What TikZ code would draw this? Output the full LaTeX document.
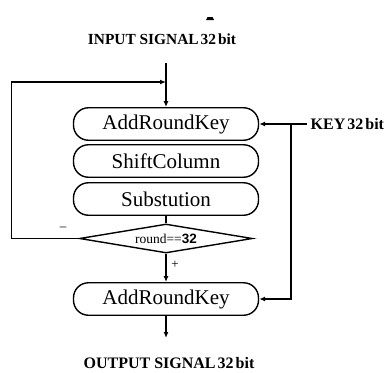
\documentclass[tikz,border=0pt]{standalone}
\usepackage{fontspec}
\setmainfont{Liberation Serif}
\newfontfamily\numfont{Liberation Sans}
\usetikzlibrary{shapes.geometric,arrows.meta}

\begin{document}
\begin{tikzpicture}[x=1pt,y=-1pt,
  line width=1.4pt,
  stage/.style={draw, rounded corners=15pt, minimum width=185pt,
    minimum height=32.5pt, inner sep=0pt,
    font=\fontsize{21}{23}\selectfont},
  test/.style={draw, diamond, aspect=6, minimum width=173pt,
    minimum height=29pt, inner sep=0pt,
    font=\fontsize{13.5}{15}\selectfont},
  sigtext/.style={inner sep=0pt, font=\fontsize{16}{18}\selectfont\bfseries},
  small/.style={inner sep=0pt, font=\fontsize{13}{14}\selectfont},
  arr/.style={-{Latex[length=6pt,width=5pt]}},
]
\useasboundingbox (0,0) rectangle (385,372);

% small mark above the title
\fill (206,20) -- (207.5,17) -- (212.5,17) -- (214,20) -- cycle;

% processing stages
\node[stage] (ark1) at (166,124) {AddRoundKey};
\node[stage] (shift) at (166,161) {ShiftColumn};
\node[stage] (sub) at (166,199) {Substution};
\node[test] (chk) at (166,238.5) {round==\textbf{\numfont 32}};
\node[stage] (ark2) at (166,299) {AddRoundKey};

% signal labels
\node[sigtext, font=\fontsize{15.4}{17}\selectfont\bfseries] (in) at (162,39)
  {INPUT SIGNAL\kern2pt 32\kern2pt bit};
\node[sigtext, anchor=west] (key) at (310,124) {KEY\kern2pt 32\kern2pt bit};
\node[sigtext] (out) at (169,363) {OUTPUT SIGNAL\kern2pt 32\kern2pt bit};

% branch marks
\node[small] (minus) at (63,229) {–};
\node[small] (plus) at (175,265) {+};

% input and loop-back
\coordinate (intop) at (166,63);
\coordinate (loopend) at (166,82);
\coordinate (loopcorner) at (11.5,82);
\draw[arr] (intop) -- (ark1.north);
\draw[arr] (chk.west) -| (loopcorner) -- (loopend);

% main flow
\draw (sub.south) -- (chk.north);
\draw[arr] (chk.south) -- (ark2.north);
\coordinate (outend) at (166,338);
\draw[arr] (ark2.south) -- (outend);

% key distribution
\coordinate (keyin) at (307,124);
\coordinate (keyj) at (291,124);
\draw[arr] (keyin) -- (ark1.east);
\draw[arr] (keyj) |- (ark2.east);
\end{tikzpicture}
\end{document}
